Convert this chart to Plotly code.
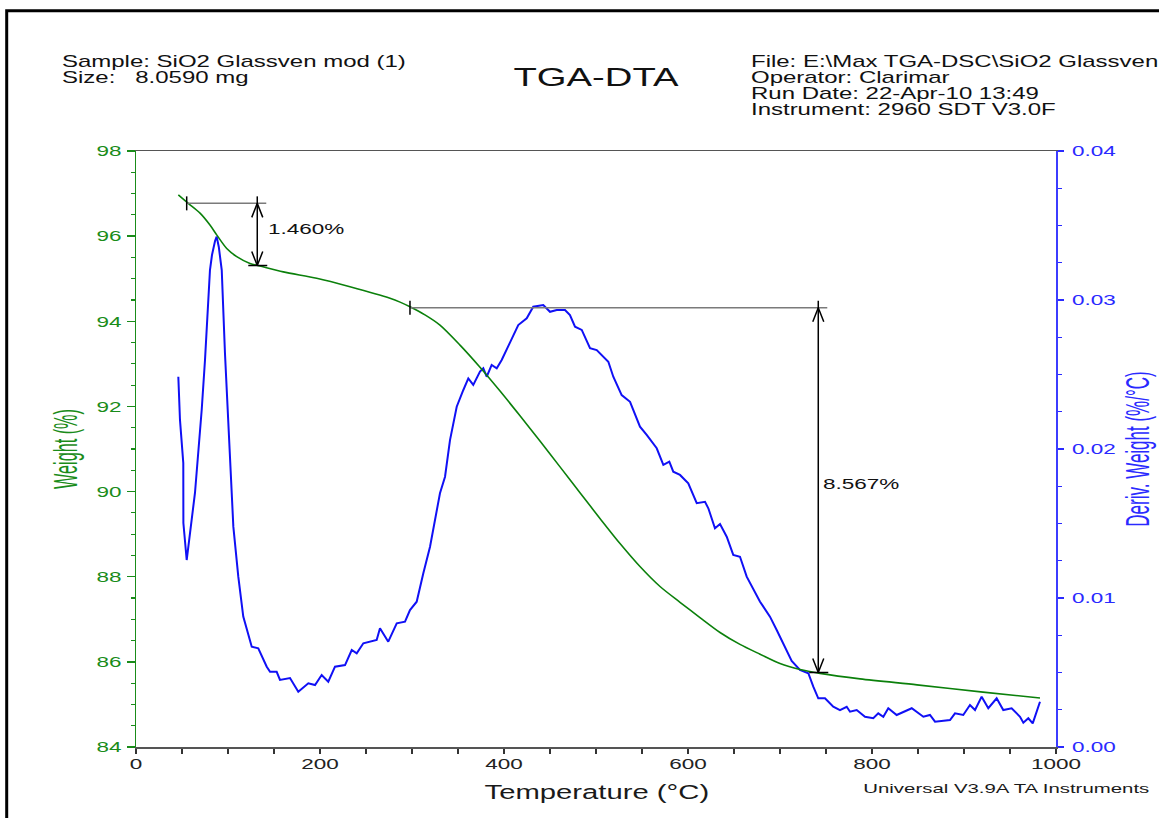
import plotly.graph_objects as go

# ---------------- data ----------------
weight_temp = [46.0, 56.8, 69.6, 80.4, 87.7, 98.6, 109.5, 123.9, 134.8, 160.1, 196.4,
               232.6, 276.1, 287.0, 297.8, 314.1, 330.4, 352.2, 373.9, 395.7, 417.4,
               439.1, 460.9, 482.6, 504.3, 526.1, 547.8, 569.6, 591.3, 613.0, 634.8,
               656.5, 678.3, 700.0, 721.7, 743.5, 787.0, 848.9, 920.7, 982.6]
weight_pct = [96.97, 96.77, 96.54, 96.26, 96.03, 95.71, 95.52, 95.36, 95.30, 95.16, 95.01,
              94.81, 94.54, 94.45, 94.34, 94.15, 93.91, 93.44, 92.92, 92.36, 91.78,
              91.19, 90.58, 89.97, 89.37, 88.78, 88.24, 87.77, 87.40, 87.04, 86.69,
              86.41, 86.18, 85.96, 85.82, 85.73, 85.60, 85.46, 85.29, 85.15]

deriv_temp = [46.0, 47.8, 51.4, 51.5, 55.1, 58.7, 64.1, 71.4, 75.0, 80.4, 82.6, 85.9, 87.7,
              90.0, 93.2, 96.7, 102.2, 105.8, 111.2, 116.6, 125.8, 132.9, 142.1, 145.7,
              152.9, 156.5, 167.4, 176.4, 187.3, 194.6, 201.8, 209.0, 216.3, 227.2,
              234.5, 239.9, 247.1, 254.3, 261.6, 265.2, 274.2, 283.4, 292.4, 297.8,
              305.1, 312.3, 319.6, 330.4, 335.9, 341.3, 348.6, 355.8, 361.2, 366.6,
              373.9, 377.5, 381.2, 386.6, 392.1, 397.5, 406.5, 415.5, 424.7, 431.8,
              442.7, 450.0, 457.3, 466.3, 471.7, 477.2, 484.5, 493.5, 500.8, 513.4,
              518.8, 527.9, 537.0, 547.8, 555.1, 566.0, 573.2, 579.7, 584.0, 591.3,
              600.3, 609.5, 618.5, 622.1, 629.3, 634.8, 642.1, 649.2, 656.5, 663.8,
              678.3, 689.1, 696.4, 703.6, 712.7, 721.7, 730.8, 736.2, 741.6, 748.9,
              757.9, 765.2, 772.5, 776.1, 783.4, 792.4, 801.4, 806.8, 812.3, 817.7,
              826.8, 843.2, 855.8, 863.0, 868.5, 884.8, 890.2, 899.2, 906.5, 912.0,
              919.2, 926.4, 935.5, 942.7, 951.8, 960.9, 964.5, 969.9, 974.7, 982.6]
deriv_value = [0.02485, 0.02195, 0.01906, 0.01503, 0.01255, 0.01423, 0.01705, 0.02262,
               0.02597, 0.03201, 0.03302, 0.03396, 0.03425, 0.03356, 0.03201, 0.02644,
               0.01973, 0.01479,
               0.01143, 0.00875, 0.00673, 0.00662, 0.00539, 0.00505, 0.00505, 0.00450,
               0.00463, 0.00371, 0.00428, 0.00416, 0.00483, 0.00438, 0.00539, 0.00550,
               0.00651, 0.00629, 0.00696, 0.00707, 0.00718, 0.00797, 0.00707, 0.00830,
               0.00841, 0.00919, 0.00975, 0.01166, 0.01344, 0.01703, 0.01814, 0.02060,
               0.02284, 0.02396, 0.02474, 0.02430, 0.02519, 0.02542, 0.02485, 0.02564,
               0.02542, 0.02597, 0.02709, 0.02832, 0.02877, 0.02955, 0.02966, 0.02921,
               0.02933, 0.02933, 0.02899, 0.02821, 0.02799, 0.02676, 0.02664, 0.02586,
               0.02485, 0.02362, 0.02317, 0.02150, 0.02094, 0.02005, 0.01893, 0.01915,
               0.01848, 0.01826, 0.01770, 0.01636, 0.01646, 0.01602, 0.01468, 0.01497,
               0.01411, 0.01289, 0.01277, 0.01143, 0.00975, 0.00875, 0.00785, 0.00696,
               0.00577, 0.00517, 0.00495, 0.00405, 0.00327, 0.00327, 0.00270, 0.00248,
               0.00270, 0.00237, 0.00248, 0.00203, 0.00193, 0.00226, 0.00203, 0.00260,
               0.00215, 0.00260, 0.00203, 0.00215, 0.00170, 0.00181, 0.00226, 0.00215,
               0.00282, 0.00248, 0.00338, 0.00260, 0.00327, 0.00248, 0.00260, 0.00203,
               0.00163, 0.00193, 0.00159, 0.00304]

# weight-loss steps (start temperature, arrow temperature, upper / lower weight)
step_t_start = [55.1, 297.8]
step_t_arrow = [131.8, 741.6]
step_w_top = [96.77, 94.32]
step_w_bottom = [95.31, 85.75]
step_labels = ["1.460%", "8.567%"]
step_label_t = [142.4, 745.7]
step_label_w = [96.17, 90.20]

x_ticks = [0, 200, 400, 600, 800, 1000]
weight_ticks = [84, 86, 88, 90, 92, 94, 96, 98]
deriv_ticks = [0.00, 0.01, 0.02, 0.03, 0.04]
deriv_ticktext = ["0.00", "0.01", "0.02", "0.03", "0.04"]

header_left = ["Sample: SiO2 Glassven mod (1)", "Size:\u00a0\u00a0 8.0590 mg"]
header_right = ["File: E:\\Max TGA-DSC\\SiO2 Glassven", "Operator: Clarimar",
                "Run Date: 22-Apr-10 13:49", "Instrument: 2960 SDT V3.0F"]

# ---------------- layout constants ----------------
FIG_W, FIG_H = 1159, 818
M_L, M_R, M_T, M_B = 136, 103, 151, 71
PW = FIG_W - M_L - M_R
PH = FIG_H - M_T - M_B
X_RANGE = [0, 1000]
W_RANGE = [84, 98]
D_RANGE = [0, 0.04]
px_per_t = PW / (X_RANGE[1] - X_RANGE[0])
px_per_w = PH / (W_RANGE[1] - W_RANGE[0])

FONT = "Liberation Sans, Arial, Helvetica, sans-serif"
GREEN_LINE = "#0b800b"
GREEN_TXT = "#1a8c1a"
BLUE_LINE = "#1010f5"
BLUE_TXT = "#2a2aff"


def paper_x(px):
    return (px - M_L) / PW


def paper_y(py):
    return (FIG_H - M_B - py) / PH


fig = go.Figure()

# derivative curve (base y axis, right side)
fig.add_trace(go.Scatter(x=deriv_temp, y=deriv_value, mode="lines", yaxis="y",
                         line=dict(color=BLUE_LINE, width=2), hoverinfo="skip",
                         showlegend=False))
# weight curve (overlay y axis, left side)
fig.add_trace(go.Scatter(x=weight_temp, y=weight_pct, mode="lines", yaxis="y2",
                         line=dict(color=GREEN_LINE, width=1.6, shape="spline", smoothing=0.8),
                         hoverinfo="skip", showlegend=False))

# step markers built from the step data with pixel-sized decorations
dt = lambda px: px / px_per_t
dw = lambda px: px / px_per_w
for i in range(len(step_labels)):
    t0, ta = step_t_start[i], step_t_arrow[i]
    wt, wb = step_w_top[i], step_w_bottom[i]
    fig.add_trace(go.Scatter(x=[t0, ta + dt(9)], y=[wt, wt], mode="lines", yaxis="y2",
                             line=dict(color="#7a7a7a", width=1.5), hoverinfo="skip",
                             showlegend=False))
    hx, hy = dt(5.5), dw(14)
    xs = [t0, t0, None,
          ta, ta, None,
          ta - hx, ta, ta + hx, None,
          ta - hx, ta, ta + hx, None,
          ta - dt(9), ta + dt(10)]
    ys = [wt + dw(7), wt - dw(7), None,
          wt + dw(7), wb, None,
          wt - hy, wt, wt - hy, None,
          wb + hy, wb, wb + hy, None,
          wb, wb]
    fig.add_trace(go.Scatter(x=xs, y=ys, mode="lines", yaxis="y2",
                             line=dict(color="#000000", width=1.5), hoverinfo="skip",
                             showlegend=False))
    fig.add_annotation(x=step_label_t[i], y=step_label_w[i], xref="x", yref="y2",
                       text=step_labels[i], showarrow=False, xanchor="left", align="left",
                       yanchor="middle", borderpad=0,
                       font=dict(family=FONT, size=15, color="#111111"))


def add_text(text, px, py, size, anchor="left", color="#111111"):
    fig.add_annotation(text=text, x=paper_x(px), y=paper_y(py), xref="paper", yref="paper",
                       xanchor=anchor, yanchor="middle", align=anchor, showarrow=False,
                       borderpad=0, font=dict(family=FONT, size=size, color=color))


for k, line in enumerate(header_left):
    add_text(line, 61, 61.5 + 16 * k, 16)
for k, line in enumerate(header_right):
    add_text(line, 750, 61.5 + 16 * k, 16)
add_text("TGA-DTA", 595.5, 77, 25.5, anchor="center")
add_text("Temperature (°C)", 597, 792, 19.5, anchor="center", color="#1a1a1a")
add_text("Universal V3.9A TA Instruments", 1006.5, 788, 13.6, anchor="center", color="#1a1a1a")

# outer frame
fig.add_shape(type="rect", xref="paper", yref="paper",
              x0=paper_x(6.7), x1=paper_x(1260), y0=paper_y(900), y1=paper_y(10.7),
              line=dict(color="#000000", width=3), fillcolor="rgba(0,0,0,0)", layer="above")

fig.update_layout(
    template="none",
    width=FIG_W, height=FIG_H,
    margin=dict(l=M_L, r=M_R, t=M_T, b=M_B, pad=0),
    paper_bgcolor="white", plot_bgcolor="white",
    font=dict(family=FONT, size=15, color="#111111"),
    showlegend=False,
    xaxis=dict(range=X_RANGE, tickvals=x_ticks, ticks="outside", ticklen=5, tickwidth=1.5,
               tickcolor="#333333", showline=True, linecolor="#555555", linewidth=1.5,
               mirror=True, showgrid=False, zeroline=False, ticklabelstandoff=-2,
               tickfont=dict(family=FONT, size=15, color="#222222"),
               minor=dict(dtick=50, tick0=0, ticks="outside", ticklen=5, tickwidth=1.2,
                          tickcolor="#333333", showgrid=False)),
    yaxis=dict(side="right", range=D_RANGE, tickvals=deriv_ticks, ticktext=deriv_ticktext,
               ticks="outside", ticklen=6, tickwidth=1.5, tickcolor=BLUE_TXT,
               showline=True, linecolor="#3c3cff", linewidth=2, showgrid=False,
               zeroline=False, ticklabelstandoff=5,
               tickfont=dict(family=FONT, size=15, color=BLUE_TXT),
               minor=dict(dtick=0.0025, tick0=0, ticks="outside", ticklen=4, tickwidth=1.2,
                          tickcolor=BLUE_TXT, showgrid=False),
               title=dict(text="Deriv. Weight (%/°C)", standoff=31,
                          font=dict(family=FONT, size=17, color=BLUE_TXT))),
    yaxis2=dict(overlaying="y", side="left", range=W_RANGE, tickvals=weight_ticks,
                ticks="outside", ticklen=8, tickwidth=1.5, tickcolor=GREEN_TXT,
                showline=True, linecolor=GREEN_TXT, linewidth=1.5, showgrid=False,
                zeroline=False, ticklabelstandoff=2,
                tickfont=dict(family=FONT, size=15, color=GREEN_TXT),
                minor=dict(dtick=0.5, tick0=84, ticks="outside", ticklen=4, tickwidth=1.2,
                           tickcolor=GREEN_TXT, showgrid=False),
                title=dict(text="Weight (%)", standoff=29,
                           font=dict(family=FONT, size=16.2, color=GREEN_TXT))),
)

# The reference rendering is horizontally stretched (glyphs ~1.5x wider);
# reproduce this by widening every text element around its own anchor point.
POST = """
(function(){
  var S = 1.5, SROT = 2.0;
  var gd = document.getElementById('{plot_id}');
  if (!gd) return;
  var NS = 'http://www.w3.org/2000/svg';
  var texts = Array.prototype.slice.call(gd.querySelectorAll('svg text'));
  texts.forEach(function(t){
    try {
      if (!t.textContent || !t.textContent.trim()) return;
      var bb = t.getBBox();
      if (!bb || !bb.width) return;
      var anchor = t.getAttribute('text-anchor') || window.getComputedStyle(t).textAnchor || 'start';
      var tl = t.transform && t.transform.baseVal ? t.transform.baseVal.consolidate() : null;
      var m = tl ? tl.matrix : null;
      var rot = m && Math.abs(m.b) > 1e-6;
      var lx;
      if (rot) lx = bb.x + bb.width / 2;
      else if (anchor === 'end') lx = bb.x + bb.width;
      else if (anchor === 'middle') lx = bb.x + bb.width / 2;
      else lx = bb.x;
      var ly = bb.y + bb.height / 2;
      var px = m ? (m.a * lx + m.c * ly + m.e) : lx;
      var s = rot ? SROT : S;
      var g = document.createElementNS(NS, 'g');
      g.setAttribute('transform', 'translate(' + px + ',0) scale(' + s + ',1) translate(' + (-px) + ',0)');
      t.parentNode.insertBefore(g, t);
      g.appendChild(t);
    } catch (e) {}
  });
})();
"""

fig.write_html("out.html", include_plotlyjs=True, post_script=POST,
               config=dict(displayModeBar=False, staticPlot=True))
